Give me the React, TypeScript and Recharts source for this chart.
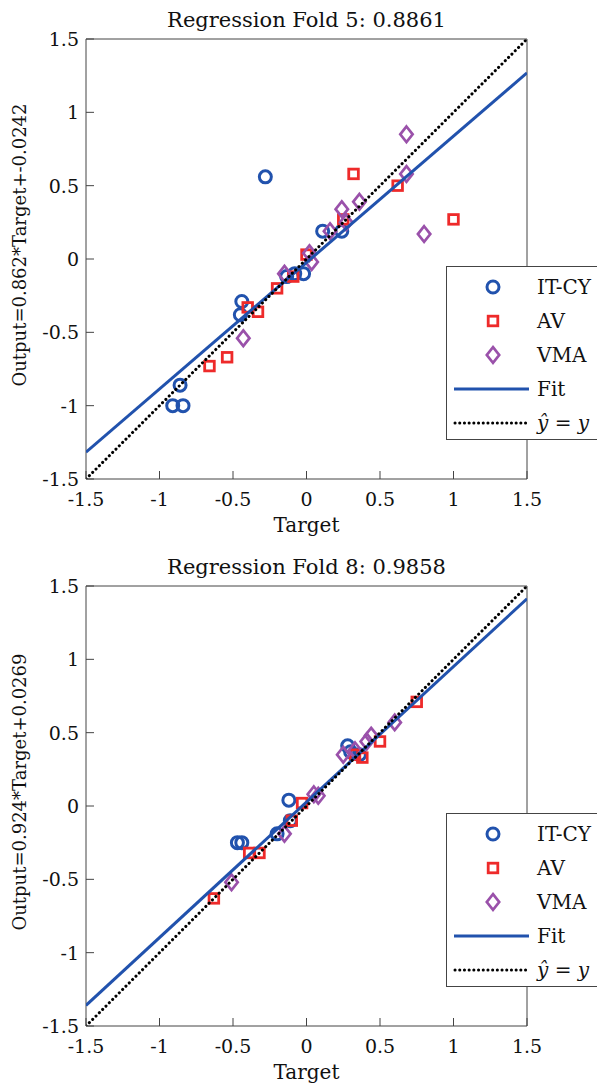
import React from 'react';
import { ScatterChart, Scatter, XAxis, YAxis, Legend, Label } from 'recharts';

type Pt = { x: number; y: number };

// axis ticks
const axisTicks = [-1.5, -1, -0.5, 0, 0.5, 1, 1.5];

// Fold 5
const fold5ItCy: Pt[] = [
  { x: -0.28, y: 0.56 }, { x: 0.11, y: 0.19 }, { x: 0.24, y: 0.19 },
  { x: -0.02, y: -0.1 }, { x: -0.135, y: -0.12 }, { x: -0.08, y: -0.1 },
  { x: -0.44, y: -0.29 }, { x: -0.45, y: -0.38 }, { x: -0.86, y: -0.86 },
  { x: -0.91, y: -1.0 }, { x: -0.84, y: -1.0 },
];
const fold5Av: Pt[] = [
  { x: 0.32, y: 0.58 }, { x: 0.62, y: 0.5 }, { x: 1.0, y: 0.27 },
  { x: 0.25, y: 0.27 }, { x: 0.0, y: 0.03 }, { x: -0.09, y: -0.12 },
  { x: -0.2, y: -0.2 }, { x: -0.4, y: -0.33 }, { x: -0.33, y: -0.36 },
  { x: -0.54, y: -0.67 }, { x: -0.66, y: -0.73 },
];
const fold5Vma: Pt[] = [
  { x: 0.68, y: 0.85 }, { x: 0.68, y: 0.58 }, { x: 0.8, y: 0.17 },
  { x: 0.36, y: 0.39 }, { x: 0.24, y: 0.34 }, { x: 0.27, y: 0.25 },
  { x: 0.16, y: 0.19 }, { x: 0.02, y: 0.04 }, { x: 0.035, y: -0.02 },
  { x: -0.15, y: -0.1 }, { x: -0.43, y: -0.54 },
];
const fold5Fit: Pt[] = [{ x: -1.5, y: -1.317 }, { x: 1.5, y: 1.269 }];

// Fold 8
const fold8ItCy: Pt[] = [
  { x: 0.28, y: 0.41 }, { x: 0.36, y: 0.35 }, { x: 0.3, y: 0.37 },
  { x: -0.12, y: 0.04 }, { x: -0.11, y: -0.1 }, { x: -0.2, y: -0.19 },
  { x: -0.47, y: -0.25 }, { x: -0.44, y: -0.25 },
];
const fold8Av: Pt[] = [
  { x: 0.75, y: 0.71 }, { x: 0.5, y: 0.44 }, { x: 0.38, y: 0.33 },
  { x: 0.33, y: 0.35 }, { x: -0.03, y: 0.02 }, { x: -0.1, y: -0.1 },
  { x: -0.39, y: -0.32 }, { x: -0.32, y: -0.32 }, { x: -0.63, y: -0.63 },
];
const fold8Vma: Pt[] = [
  { x: 0.6, y: 0.57 }, { x: 0.44, y: 0.48 }, { x: 0.41, y: 0.44 },
  { x: 0.33, y: 0.38 }, { x: 0.25, y: 0.35 }, { x: 0.08, y: 0.07 },
  { x: 0.05, y: 0.08 }, { x: -0.15, y: -0.19 }, { x: -0.51, y: -0.52 },
];
const fold8Fit: Pt[] = [{ x: -1.5, y: -1.359 }, { x: 1.5, y: 1.413 }];

const identity: Pt[] = [{ x: -1.5, y: -1.5 }, { x: 1.5, y: 1.5 }];

const BLUE = '#2152ad';
const RED = '#ee2a2a';
const PURPLE = '#9a51aa';
const FRAME = '#444';
const FONT = '"DejaVu Serif", serif';
const TXT = '#111';
const DOTS = { stroke: '#000', strokeWidth: 3, strokeDasharray: '0.1 4.6', strokeLinecap: 'round' as const };

const Circle = (p: any) => (
  <circle cx={p.cx} cy={p.cy} r={6} fill="none" stroke={BLUE} strokeWidth={3} />
);
const Square = (p: any) => (
  <rect x={p.cx - 4.8} y={p.cy - 4.8} width={9.6} height={9.6} fill="none" stroke={RED} strokeWidth={2.8} />
);
const Diamond = (p: any) => (
  <path
    d={`M${p.cx},${p.cy - 7.8}L${p.cx + 6.2},${p.cy}L${p.cx},${p.cy + 7.8}L${p.cx - 6.2},${p.cy}Z`}
    fill="none"
    stroke={PURPLE}
    strokeWidth={2.7}
  />
);
const NoShape = () => <g />;

const BottomTick = (p: any) => (
  <g>
    <line x1={p.x} y1={p.y} x2={p.x} y2={p.y - 8} stroke={FRAME} />
    <text x={p.x} y={p.y + 27} textAnchor="middle" fontFamily={FONT} fontSize={19} fill={TXT}>
      {p.payload.value}
    </text>
  </g>
);
const TopTick = (p: any) => (
  <line x1={p.x} y1={p.y} x2={p.x} y2={p.y + 8} stroke={FRAME} />
);
const LeftTick = (p: any) => (
  <g>
    <line x1={p.x} y1={p.y} x2={p.x + 8} y2={p.y} stroke={FRAME} />
    <text x={p.x - 7} y={p.y + 7} textAnchor="end" fontFamily={FONT} fontSize={19} fill={TXT}>
      {p.payload.value}
    </text>
  </g>
);
const RightTick = (p: any) => (
  <line x1={p.x} y1={p.y} x2={p.x - 8} y2={p.y} stroke={FRAME} />
);

const legendItems = ['IT-CY', 'AV', 'VMA', 'Fit', 'yhat'];

const LegendIcon = ({ kind }: { kind: string }) => {
  const c = { cx: 46, cy: 17 };
  return (
    <svg width={88} height={34} style={{ display: 'block' }}>
      {kind === 'IT-CY' && <Circle {...c} />}
      {kind === 'AV' && <Square {...c} />}
      {kind === 'VMA' && <Diamond {...c} />}
      {kind === 'Fit' && <line x1={7} y1={17} x2={82} y2={17} stroke={BLUE} strokeWidth={3} />}
      {kind === 'yhat' && <line x1={8} y1={17} x2={82} y2={17} {...DOTS} />}
    </svg>
  );
};

const LegendBox = () => (
  <div
    style={{
      border: `1px solid ${FRAME}`,
      background: '#fff',
      width: 170,
      height: 174,
      boxSizing: 'border-box',
      paddingTop: 3,
      fontFamily: FONT,
      fontSize: 20,
      color: TXT,
    }}
  >
    {legendItems.map((k) => (
      <div key={k} style={{ display: 'flex', alignItems: 'center', height: 34 }}>
        <LegendIcon kind={k} />
        <span style={{ marginLeft: 2, whiteSpace: 'nowrap' }}>
          {k === 'yhat' ? (
            <>
              <i>ŷ</i> = <i>y</i>
            </>
          ) : (
            k
          )}
        </span>
      </div>
    ))}
  </div>
);

type FoldProps = {
  title: string;
  yLabel: string;
  height: number;
  itcy: Pt[];
  av: Pt[];
  vma: Pt[];
  fit: Pt[];
};

const FoldChart: React.FC<FoldProps> = ({ title, yLabel, height, itcy, av, vma, fit }) => (
  <ScatterChart
    width={597}
    height={height}
    margin={{ top: 29, right: 60, left: 26, bottom: height - 479 - 50 }}
  >
    <XAxis
      type="number"
      dataKey="x"
      domain={[-1.5, 1.5]}
      ticks={axisTicks}
      interval={0}
      height={50}
      tickSize={0}
      tickMargin={0}
      tick={<BottomTick />}
      axisLine={{ stroke: FRAME }}
      allowDataOverflow
    >
      <Label
        content={(props: any) => (
          <text
            x={props.viewBox.x + props.viewBox.width / 2}
            y={props.viewBox.y + 53}
            textAnchor="middle"
            fontFamily={FONT}
            fontSize={20}
            fill={TXT}
          >
            Target
          </text>
        )}
      />
    </XAxis>
    <XAxis
      xAxisId="top"
      orientation="top"
      type="number"
      dataKey="x"
      domain={[-1.5, 1.5]}
      ticks={axisTicks}
      interval={0}
      height={10}
      tickSize={0}
      tickMargin={0}
      tick={<TopTick />}
      axisLine={{ stroke: FRAME }}
    >
      <Label
        content={(props: any) => (
          <text
            x={props.viewBox.x + props.viewBox.width / 2}
            y={props.viewBox.y - 2}
            textAnchor="middle"
            fontFamily={FONT}
            fontSize={21}
            fill={TXT}
          >
            {title}
          </text>
        )}
      />
    </XAxis>
    <YAxis
      type="number"
      dataKey="y"
      domain={[-1.5, 1.5]}
      ticks={axisTicks}
      interval={0}
      width={60}
      tickSize={0}
      tickMargin={0}
      tick={<LeftTick />}
      axisLine={{ stroke: FRAME }}
      allowDataOverflow
    >
      <Label
        content={() => (
          <text
            x={0}
            y={0}
            transform={`translate(26, ${245}) rotate(-90)`}
            textAnchor="middle"
            fontFamily={FONT}
            fontSize={18}
            fill={TXT}
          >
            {yLabel}
          </text>
        )}
      />
    </YAxis>
    <YAxis
      yAxisId="right"
      orientation="right"
      type="number"
      dataKey="y"
      domain={[-1.5, 1.5]}
      ticks={axisTicks}
      interval={0}
      width={10}
      tickSize={0}
      tickMargin={0}
      tick={<RightTick />}
      axisLine={{ stroke: FRAME }}
    />
    <Scatter name="IT-CY" data={itcy} shape={<Circle />} isAnimationActive={false} />
    <Scatter name="AV" data={av} shape={<Square />} isAnimationActive={false} />
    <Scatter name="VMA" data={vma} shape={<Diamond />} isAnimationActive={false} />
    <Scatter
      name="Fit"
      data={fit}
      shape={<NoShape />}
      line={{ stroke: BLUE, strokeWidth: 3 }}
      isAnimationActive={false}
    />
    <Scatter name="yhat" data={identity} shape={<NoShape />} line={DOTS} isAnimationActive={false} />
    <Legend
      layout="vertical"
      align="center"
      verticalAlign="middle"
      content={() => <LegendBox />}
      wrapperStyle={{ left: 446, top: 266, width: 170, height: 174 }}
    />
  </ScatterChart>
);

export default function App() {
  return (
    <div
      style={{
        position: 'absolute',
        left: 0,
        top: 0,
        width: 597,
        height: 1084,
        overflow: 'hidden',
        background: '#fff',
      }}
    >
      <div style={{ position: 'absolute', left: 0, top: 0 }}>
        <FoldChart
          title="Regression Fold 5: 0.8861"
          yLabel="Output=0.862*Target+-0.0242"
          height={547}
          itcy={fold5ItCy}
          av={fold5Av}
          vma={fold5Vma}
          fit={fold5Fit}
        />
      </div>
      <div style={{ position: 'absolute', left: 0, top: 547 }}>
        <FoldChart
          title="Regression Fold 8: 0.9858"
          yLabel="Output=0.924*Target+0.0269"
          height={537}
          itcy={fold8ItCy}
          av={fold8Av}
          vma={fold8Vma}
          fit={fold8Fit}
        />
      </div>
    </div>
  );
}
